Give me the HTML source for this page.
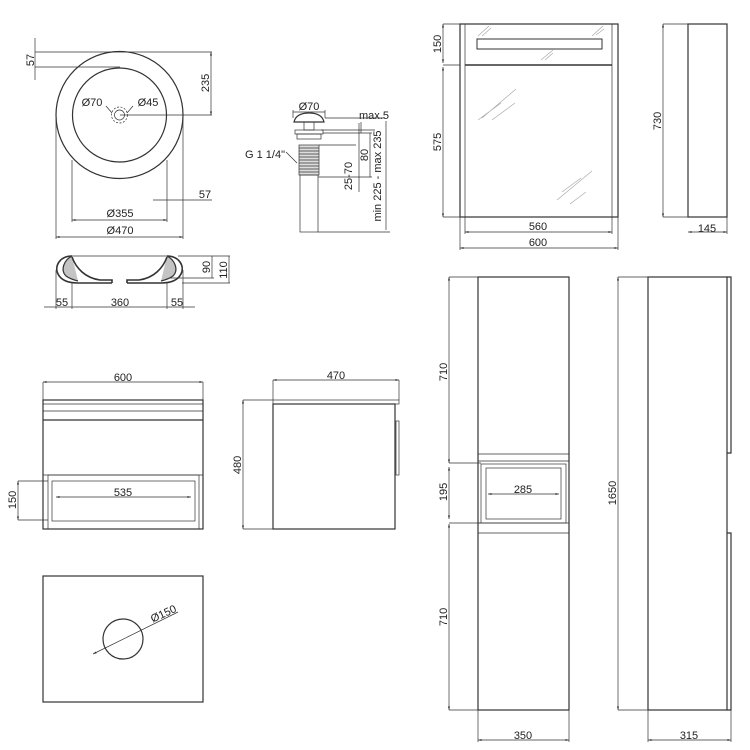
<!DOCTYPE html>
<html><head><meta charset="utf-8"><style>
html,body{margin:0;padding:0;background:#fff}
svg{display:block}
text{font-family:"Liberation Sans",Arial,sans-serif;font-size:11px;fill:#222}
</style></head><body>
<svg width="750" height="750" viewBox="0 0 750 750" xmlns="http://www.w3.org/2000/svg">
<defs>
<marker id="a" viewBox="0 0 10 10" refX="10" refY="5" markerWidth="7" markerHeight="5" orient="auto-start-reverse"><path d="M0,2 L10,5 L0,8 z" fill="#333"/></marker>
</defs>
<g stroke="#333" stroke-width="0.7" fill="none">
<!-- basin top -->
<circle cx="119.5" cy="115" r="63.5" stroke-width="1.2"/>
<circle cx="119.5" cy="115" r="47" stroke-width="1.2"/>
<circle cx="119.5" cy="115" r="8" stroke-dasharray="2,1.5"/>
<circle cx="119.5" cy="115" r="5"/>
<line x1="35" y1="52" x2="212" y2="52"/>
<line x1="35" y1="67" x2="120" y2="67"/>
<line x1="35" y1="38" x2="35" y2="80"/>
<line x1="211" y1="52" x2="211" y2="115" marker-start="url(#a)" marker-end="url(#a)"/>
<line x1="120" y1="115" x2="212" y2="115"/>
<line x1="153" y1="200" x2="212" y2="200"/>
<line x1="56" y1="115" x2="56" y2="239"/><line x1="183" y1="115" x2="183" y2="239"/>
<line x1="72" y1="160" x2="72" y2="222"/><line x1="167" y1="160" x2="167" y2="222"/>
<line x1="72" y1="220" x2="167" y2="220" marker-start="url(#a)" marker-end="url(#a)"/>
<line x1="56" y1="237" x2="183" y2="237" marker-start="url(#a)" marker-end="url(#a)"/>
<line x1="106" y1="106" x2="112" y2="113"/><line x1="133" y1="106" x2="127" y2="113"/>
<!-- basin side -->
<line x1="72" y1="256" x2="167" y2="256"/>
<path d="M72,256 C60,256 54,266 58,274 C61,280 68,283 78,283 L112,283" stroke-width="1.6"/>
<path d="M167,256 C179,256 185,266 181,274 C178,280 171,283 161,283 L127,283" stroke-width="1.6"/>
<path d="M72,256 C64,260 60,270 66,276 C70,279 74,280 78,281" stroke-width="1.2" fill="#555" fill-opacity="0.35"/>
<path d="M167,256 C175,260 179,270 173,276 C169,279 165,280 161,281" stroke-width="1.2" fill="#555" fill-opacity="0.35"/>
<path d="M72,257 C76,268 85,278 100,280 L112,280 L112,283" stroke-width="1.6"/>
<path d="M167,257 C163,268 154,278 139,280 L127,280 L127,283" stroke-width="1.6"/>
<line x1="178" y1="256" x2="230" y2="256"/>
<line x1="170" y1="278" x2="214" y2="278"/>
<line x1="182" y1="283" x2="230" y2="283"/>
<line x1="212" y1="256" x2="212" y2="278"/>
<line x1="229" y1="256" x2="229" y2="283"/>
<line x1="44" y1="307" x2="195" y2="307"/>
<line x1="56" y1="270" x2="56" y2="309"/><line x1="72" y1="283" x2="72" y2="309"/>
<line x1="167" y1="283" x2="167" y2="309"/><line x1="183" y1="270" x2="183" y2="309"/>
<!-- drain -->
<line x1="293" y1="112" x2="325" y2="112"/>
<line x1="293" y1="110" x2="293" y2="118"/><line x1="325" y1="110" x2="325" y2="118"/>
<path d="M294,122 Q296,113 309,113 Q322,113 324,122 Z" stroke-width="1.2"/>
<rect x="304" y="122" width="10" height="8"/>
<rect x="295" y="130" width="28" height="4"/>
<rect x="297" y="134" width="24" height="5"/>
<rect x="299" y="145" width="20" height="30" fill="#ddd"/>
<path d="M299,148 H319 M299,151 H319 M299,154 H319 M299,157 H319 M299,160 H319 M299,163 H319 M299,166 H319 M299,169 H319 M299,172 H319"/>
<rect x="300" y="175" width="18" height="57"/>
<line x1="325" y1="118" x2="385" y2="118"/>
<line x1="321" y1="130" x2="375" y2="130"/>
<line x1="323" y1="133" x2="372" y2="133"/>
<line x1="319" y1="145" x2="356" y2="145"/>
<line x1="318" y1="177" x2="372" y2="177"/>
<line x1="318" y1="232" x2="390" y2="232"/>
<line x1="359" y1="123" x2="359" y2="192"/>
<line x1="370" y1="133" x2="370" y2="177"/>
<line x1="361" y1="122" x2="361" y2="133"/>
<line x1="386" y1="121" x2="386" y2="230"/>
<line x1="286" y1="152" x2="297" y2="163"/>
<!-- mirror cabinet -->
<rect x="460" y="24" width="158" height="193" stroke-width="1.2"/>
<line x1="465" y1="24" x2="465" y2="217"/>
<line x1="465" y1="65" x2="612" y2="65" stroke-width="1.5"/>
<line x1="612" y1="24" x2="612" y2="217"/>
<rect x="477" y="39" width="125" height="10" stroke-width="1"/>
<g stroke="#aaa"><path d="M478,36 L489,26 M482,36 L491,28 M592,36 L603,26 M596,35 L604,29 M541,60 L553,50 M545,60 L553,53 M478,120 L501,103 M482,118 L516,89 M492,120 L515,103 M557,200 L592,171 M562,192 L581,178 M570,204 L586,192"/></g>
<line x1="443" y1="24" x2="460" y2="24"/><line x1="443" y1="65" x2="460" y2="65"/><line x1="443" y1="217" x2="460" y2="217"/>
<line x1="443" y1="24" x2="443" y2="63" marker-start="url(#a)" marker-end="url(#a)"/>
<line x1="443" y1="67" x2="443" y2="217" marker-start="url(#a)" marker-end="url(#a)"/>
<line x1="465" y1="217" x2="465" y2="234"/><line x1="612" y1="217" x2="612" y2="234"/>
<line x1="460" y1="217" x2="460" y2="250"/><line x1="618" y1="217" x2="618" y2="250"/>
<line x1="465" y1="232" x2="612" y2="232" marker-start="url(#a)" marker-end="url(#a)"/>
<line x1="460" y1="248" x2="618" y2="248" marker-start="url(#a)" marker-end="url(#a)"/>
<rect x="688" y="24" width="39" height="193" stroke-width="1.2"/>
<line x1="663" y1="24" x2="688" y2="24"/><line x1="663" y1="217" x2="688" y2="217"/>
<line x1="663" y1="24" x2="663" y2="217" marker-start="url(#a)" marker-end="url(#a)"/>
<line x1="727" y1="217" x2="727" y2="234"/>
<line x1="688" y1="232" x2="727" y2="232" marker-start="url(#a)" marker-end="url(#a)"/>
<!-- vanity front -->
<rect x="43" y="400" width="160" height="129" stroke-width="1.2"/>
<line x1="43" y1="404" x2="203" y2="404"/>
<line x1="43" y1="411" x2="203" y2="411"/>
<line x1="43" y1="420" x2="203" y2="420" stroke-width="1.2"/>
<line x1="43" y1="475" x2="203" y2="475"/>
<rect x="48" y="475" width="151" height="54"/>
<rect x="52" y="481" width="143" height="40"/>
<line x1="43" y1="382" x2="43" y2="400"/><line x1="203" y1="382" x2="203" y2="400"/>
<line x1="43" y1="382" x2="203" y2="382" marker-start="url(#a)" marker-end="url(#a)"/>
<line x1="56" y1="497" x2="191" y2="497" marker-start="url(#a)" marker-end="url(#a)"/>
<line x1="18" y1="481" x2="48" y2="481"/><line x1="18" y1="520" x2="48" y2="520"/>
<line x1="18" y1="481" x2="18" y2="520" marker-start="url(#a)" marker-end="url(#a)"/>
<!-- vanity side -->
<rect x="273" y="400" width="126" height="4"/>
<rect x="273" y="404" width="122" height="125" stroke-width="1.2"/>
<rect x="396" y="421" width="3" height="54"/>
<line x1="273" y1="380" x2="273" y2="400"/><line x1="399" y1="380" x2="399" y2="400"/>
<line x1="273" y1="380" x2="399" y2="380" marker-start="url(#a)" marker-end="url(#a)"/>
<line x1="243" y1="400" x2="273" y2="400"/><line x1="243" y1="529" x2="273" y2="529"/>
<line x1="243" y1="400" x2="243" y2="529" marker-start="url(#a)" marker-end="url(#a)"/>
<!-- bottom panel -->
<rect x="43" y="576" width="160" height="126" stroke-width="1.2"/>
<circle cx="123" cy="639" r="20" stroke-width="1.2"/>
<line x1="93" y1="654" x2="178" y2="612" marker-start="url(#a)"/>
<!-- tall front -->
<rect x="478" y="277" width="91" height="433" stroke-width="1.2"/>
<line x1="478" y1="454" x2="569" y2="454"/>
<line x1="478" y1="461" x2="569" y2="461"/>
<rect x="481" y="464" width="85" height="59"/>
<rect x="486" y="468" width="75" height="51"/>
<line x1="478" y1="523" x2="569" y2="523"/>
<line x1="478" y1="533" x2="569" y2="533"/>
<line x1="449" y1="277" x2="478" y2="277"/><line x1="449" y1="463" x2="481" y2="463"/>
<line x1="449" y1="523" x2="481" y2="523"/><line x1="449" y1="710" x2="478" y2="710"/>
<line x1="449" y1="277" x2="449" y2="463" marker-start="url(#a)" marker-end="url(#a)"/>
<line x1="449" y1="467" x2="449" y2="519" marker-start="url(#a)" marker-end="url(#a)"/>
<line x1="449" y1="524" x2="449" y2="710" marker-start="url(#a)" marker-end="url(#a)"/>
<line x1="488" y1="494" x2="559" y2="494" marker-start="url(#a)" marker-end="url(#a)"/>
<line x1="478" y1="710" x2="478" y2="742"/><line x1="569" y1="710" x2="569" y2="742"/>
<line x1="478" y1="740" x2="569" y2="740" marker-start="url(#a)" marker-end="url(#a)"/>
<!-- tall side -->
<rect x="648" y="277" width="79" height="433" stroke-width="1.2"/>
<path d="M727,277 H731 V453 H727 M727,533 H731 V710 H727" stroke-width="1.2"/>
<line x1="618" y1="277" x2="648" y2="277"/><line x1="618" y1="710" x2="648" y2="710"/>
<line x1="618" y1="277" x2="618" y2="710" marker-start="url(#a)" marker-end="url(#a)"/>
<line x1="648" y1="710" x2="648" y2="742"/><line x1="731" y1="710" x2="731" y2="742"/>
<line x1="648" y1="740" x2="731" y2="740" marker-start="url(#a)" marker-end="url(#a)"/>
</g>
<!-- texts -->
<text transform="translate(34,60) rotate(-90)" text-anchor="middle">57</text>
<text transform="translate(209,83) rotate(-90)" text-anchor="middle">235</text>
<text x="205" y="198" text-anchor="middle">57</text>
<text x="120" y="217" text-anchor="middle">Ø355</text>
<text x="120" y="234" text-anchor="middle">Ø470</text>
<text x="92" y="106" text-anchor="middle">Ø70</text>
<text x="148" y="106" text-anchor="middle">Ø45</text>
<text transform="translate(210,267) rotate(-90)" text-anchor="middle">90</text>
<text transform="translate(227,270) rotate(-90)" text-anchor="middle">110</text>
<text x="62" y="306" text-anchor="middle">55</text>
<text x="120" y="306" text-anchor="middle">360</text>
<text x="177" y="306" text-anchor="middle">55</text>
<text x="309" y="110" text-anchor="middle">Ø70</text>
<text x="359" y="119">max.5</text>
<text x="245" y="158">G 1 1/4"</text>
<text transform="translate(381,176) rotate(-90)" text-anchor="middle">min 225 - max 235</text>
<text transform="translate(368,155) rotate(-90)" text-anchor="middle">80</text>
<text transform="translate(352,176) rotate(-90)" text-anchor="middle">25-70</text>
<text transform="translate(441,44) rotate(-90)" text-anchor="middle">150</text>
<text transform="translate(441,142) rotate(-90)" text-anchor="middle">575</text>
<text x="538" y="230" text-anchor="middle">560</text>
<text x="538" y="246" text-anchor="middle">600</text>
<text transform="translate(661,121) rotate(-90)" text-anchor="middle">730</text>
<text x="707" y="232" text-anchor="middle">145</text>
<text x="123" y="381" text-anchor="middle">600</text>
<text x="123" y="496" text-anchor="middle">535</text>
<text transform="translate(16,500) rotate(-90)" text-anchor="middle">150</text>
<text x="336" y="379" text-anchor="middle">470</text>
<text transform="translate(241,465) rotate(-90)" text-anchor="middle">480</text>
<text transform="translate(165,617) rotate(-25)" text-anchor="middle">Ø150</text>
<text transform="translate(447,372) rotate(-90)" text-anchor="middle">710</text>
<text transform="translate(447,492) rotate(-90)" text-anchor="middle">195</text>
<text transform="translate(447,617) rotate(-90)" text-anchor="middle">710</text>
<text x="523" y="493" text-anchor="middle">285</text>
<text x="523" y="739" text-anchor="middle">350</text>
<text transform="translate(616,493) rotate(-90)" text-anchor="middle">1650</text>
<text x="689" y="739" text-anchor="middle">315</text>
</svg>
</body></html>
